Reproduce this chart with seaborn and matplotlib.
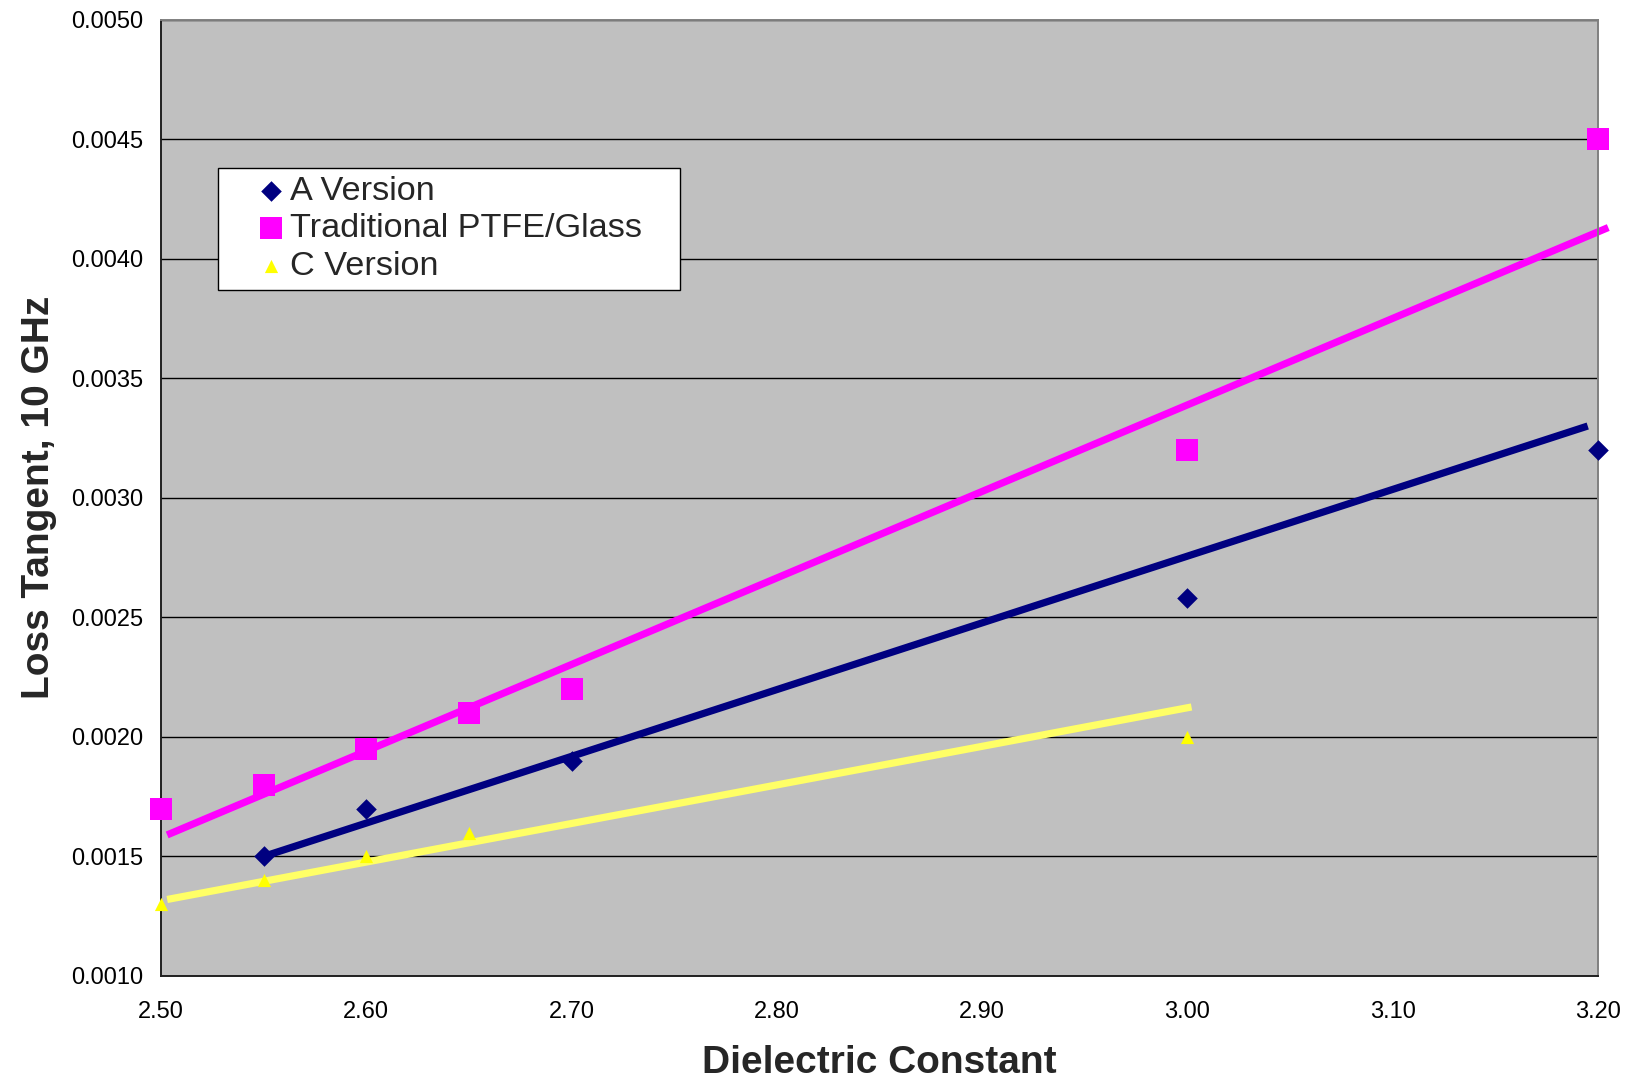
import matplotlib
matplotlib.use("Agg")
import matplotlib.pyplot as plt
from matplotlib.ticker import FormatStrFormatter
import seaborn as sns

# Measured loss tangent at 10 GHz versus dielectric constant
a_dk = [2.55, 2.60, 2.70, 3.00, 3.20]
a_df = [0.0015, 0.0017, 0.0019, 0.00258, 0.0032]

ptfe_dk = [2.50, 2.55, 2.60, 2.65, 2.70, 3.00, 3.20]
ptfe_df = [0.0017, 0.0018, 0.00195, 0.0021, 0.0022, 0.0032, 0.0045]

c_dk = [2.50, 2.55, 2.60, 2.65, 3.00]
c_df = [0.0013, 0.0014, 0.0015, 0.0016, 0.0020]

# Trend lines (end points)
a_trend_dk = [2.55, 3.195]
a_trend_df = [0.0015, 0.0033]
ptfe_trend_dk = [2.503, 3.205]
ptfe_trend_df = [0.00159, 0.00413]
c_trend_dk = [2.503, 3.002]
c_trend_df = [0.00132, 0.002125]

x_ticks = [2.50, 2.60, 2.70, 2.80, 2.90, 3.00, 3.10, 3.20]
y_ticks = [0.0010, 0.0015, 0.0020, 0.0025, 0.0030, 0.0035, 0.0040, 0.0045, 0.0050]

NAVY = "#000080"
MAGENTA = "#FF00FF"
YELLOW = "#FFFF00"
TREND_YELLOW = "#FFFF66"

sns.set_style("white")
plt.rcParams["font.family"] = ["Liberation Sans", "DejaVu Sans"]

fig, ax = plt.subplots(figsize=(16.28, 10.82), dpi=100)
fig.subplots_adjust(left=161 / 1628, right=1598 / 1628,
                    bottom=1 - 976 / 1082, top=1 - 19.5 / 1082)
ax.set_facecolor("#C0C0C0")

# Trend lines
for tx, ty, col in [(ptfe_trend_dk, ptfe_trend_df, MAGENTA),
                    (a_trend_dk, a_trend_df, NAVY),
                    (c_trend_dk, c_trend_df, TREND_YELLOW)]:
    sns.lineplot(x=tx, y=ty, ax=ax, color=col, linewidth=5.2,
                 solid_capstyle="butt", clip_on=False, zorder=2,
                 estimator=None, sort=False)

# Measured points
sns.scatterplot(x=a_dk, y=a_df, ax=ax, marker="D", s=110, color=NAVY,
                linewidth=0, label="A Version", zorder=3, clip_on=False)
sns.scatterplot(x=ptfe_dk, y=ptfe_df, ax=ax, marker="s", s=255, color=MAGENTA,
                linewidth=0, label="Traditional PTFE/Glass", zorder=3, clip_on=False)
sns.scatterplot(x=c_dk, y=c_df, ax=ax, marker="^", s=90, color=YELLOW,
                linewidth=0, label="C Version", zorder=3, clip_on=False)

ax.set_xlim(2.50, 3.20)
ax.set_ylim(0.0010, 0.0050)
ax.set_xticks(x_ticks)
ax.set_yticks(y_ticks)
ax.xaxis.set_major_formatter(FormatStrFormatter("%.2f"))
ax.yaxis.set_major_formatter(FormatStrFormatter("%.4f"))
ax.tick_params(axis="both", direction="out", length=6, width=1.2,
               color="black", labelsize=17, labelcolor="black")
ax.tick_params(axis="x", pad=12)
ax.tick_params(axis="y", pad=7)

ax.yaxis.grid(True, color="black", linewidth=1.0)
ax.xaxis.grid(False)
ax.set_axisbelow(True)

for side in ["left", "bottom"]:
    ax.spines[side].set_color("#202020")
    ax.spines[side].set_linewidth(1.4)
for side in ["top", "right"]:
    ax.spines[side].set_color("#808080")
    ax.spines[side].set_linewidth(1.4)
    ax.spines[side].set_visible(True)

ax.set_xlabel("Dielectric Constant", fontsize=28, fontweight="bold", labelpad=16)
ax.set_ylabel("Loss Tangent, 10 GHz", fontsize=28, fontweight="bold", labelpad=10)

leg = ax.legend(loc="upper left", bbox_to_anchor=(0.0397, 0.6447, 0.3215, 0.2),
                mode="expand", borderaxespad=0, fontsize=24.7, labelspacing=0.18,
                borderpad=0.24, handlelength=2.62, handletextpad=-0.76,
                scatterpoints=1, frameon=True, fancybox=False, framealpha=1)
leg.get_frame().set_edgecolor("black")
leg.get_frame().set_facecolor("white")
leg.get_frame().set_linewidth(1.0)

fig.savefig("out.png", dpi=100, facecolor="white")
